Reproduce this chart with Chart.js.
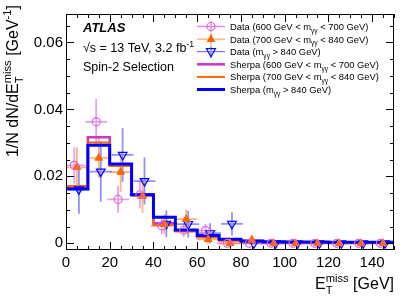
<!DOCTYPE html>
<html>
<head>
<meta charset="utf-8">
<script src="https://cdn.jsdelivr.net/npm/chart.js@4.4.0/dist/chart.umd.min.js"></script>
<style>
  html, body { margin: 0; padding: 0; background: #fff; }
  #wrap { width: 415px; height: 298px; }
</style>
</head>
<body>
<div id="wrap"><canvas id="c" width="415" height="298"></canvas></div>
<script>
// bin edges / centres (GeV)
const binEdges = [0, 10, 20, 30, 40, 50, 60, 70, 80, 90, 100, 110, 120, 130, 140, 150];
const binCenters = [5, 15, 25, 35, 45, 55, 65, 75, 85, 95, 105, 115, 125, 135, 145];

// Sherpa predictions (normalised)
const sherpa600 = [0.0168, 0.0317, 0.0234, 0.0146, 0.0060, 0.0039, 0.0020, 0.0010, 0.0006, 0.0004, 0.0003, 0.0003, 0.0002, 0.0002, 0.0002];
const sherpa700 = [0.0171, 0.0301, 0.0231, 0.0143, 0.0055, 0.0035, 0.0017, 0.0008, 0.0005, 0.0004, 0.0003, 0.0003, 0.0002, 0.0002, 0.0002];
const sherpa840 = [0.0162, 0.0293, 0.0237, 0.0145, 0.0078, 0.0040, 0.0023, 0.0012, 0.0007, 0.0005, 0.0004, 0.0004, 0.0003, 0.0003, 0.0003];

// data points and their statistical errors
const data600 = [0.0233, 0.0363, 0.0131, 0.0145, 0.0052, 0.0039, 0.0038, 0, 0, 0, 0, 0, 0, 0, 0];
const err600  = [0.0055, 0.0068, 0.0040, 0.0040, 0.0025, 0.0020, 0.0020, 0, 0, 0, 0, 0, 0, 0, 0];
const data700 = [0.0227, 0.0255, 0.0213, 0.0141, 0.0057, 0.0072, 0.0012, 0, 0.0010, 0, 0, 0, 0, 0, 0];
const err700  = [0.0060, 0.0060, 0.0060, 0.0050, 0.0030, 0.0030, 0.0015, 0, 0.0015, 0, 0, 0, 0, 0, 0];
const data840 = [0.0161, 0.0214, 0.0264, 0.0186, 0.0058, 0.0057, 0.0030, 0.0058, 0, 0, 0, 0, 0, 0, 0];
const err840  = [0.0073, 0.0090, 0.0080, 0.0070, 0.0040, 0.0040, 0.0030, 0.0035, 0, 0, 0, 0, 0, 0, 0];

const xTicks = [0, 20, 40, 60, 80, 100, 120, 140];
const yTicks = [0, 0.02, 0.04, 0.06];

const FONT = '"Liberation Sans", Arial, Helvetica, sans-serif';
const MAG = '#cc33cc', MAG_D = '#dd66dd', ORA = '#ff6600', BLU = '#0000ff';

function histPoints(vals) {
  const pts = vals.map((v, i) => ({ x: binEdges[i], y: v }));
  pts.push({ x: binEdges[binEdges.length - 1], y: vals[vals.length - 1] });
  return pts;
}
function dataPoints(vals, shift) {
  return vals.map((v, i) => ({ x: binCenters[i] + shift, y: v }));
}

const series = [
  { vals: data600, errs: err600, shift: -1.2, bar: 'rgba(221,110,221,0.65)' },
  { vals: data700, errs: err700, shift: 0, bar: 'rgba(255,130,50,0.6)' },
  { vals: data840, errs: err840, shift: 0.9, bar: 'rgba(70,70,255,0.6)' }
];

// text with sub/superscripts: parts [{t}, {sub}, {sup}, {sub, sup}]
function richWidth(ctx, parts, size) {
  let w = 0;
  parts.forEach(p => {
    if (p.t !== undefined) { ctx.font = size + 'px ' + FONT; w += ctx.measureText(p.t).width; }
    else {
      ctx.font = (size * 0.7) + 'px ' + FONT;
      w += Math.max(p.sub ? ctx.measureText(p.sub).width : 0, p.sup ? ctx.measureText(p.sup).width : 0);
    }
  });
  return w;
}
function drawRich(ctx, parts, x, y, size, align) {
  if (align === 'right') x -= richWidth(ctx, parts, size);
  ctx.textBaseline = 'alphabetic';
  ctx.textAlign = 'left';
  parts.forEach(p => {
    if (p.t !== undefined) {
      ctx.font = size + 'px ' + FONT;
      ctx.fillText(p.t, x, y);
      x += ctx.measureText(p.t).width;
    } else {
      ctx.font = (size * 0.7) + 'px ' + FONT;
      let w = 0;
      if (p.sup) { ctx.fillText(p.sup, x, y - size * 0.42); w = ctx.measureText(p.sup).width; }
      if (p.sub) { ctx.fillText(p.sub, x, y + size * 0.3); w = Math.max(w, ctx.measureText(p.sub).width); }
      x += w;
    }
  });
}

const atlasPlugin = {
  id: 'atlas',
  beforeDatasetsDraw(chart) {
    const { ctx, chartArea: a, scales: { x, y } } = chart;
    ctx.save();
    ctx.beginPath();
    ctx.rect(a.left, a.top, a.right - a.left, a.bottom - a.top);
    ctx.clip();
    series.forEach(s => {
      ctx.strokeStyle = s.bar;
      ctx.lineWidth = 1.8;
      s.vals.forEach((v, i) => {
        const xc = binCenters[i] + s.shift;
        const px = x.getPixelForValue(xc), py = y.getPixelForValue(v);
        ctx.beginPath();
        ctx.moveTo(x.getPixelForValue(xc - 5), py);
        ctx.lineTo(x.getPixelForValue(xc + 5), py);
        if (s.errs[i] > 0) {
          ctx.moveTo(px, y.getPixelForValue(v - s.errs[i]));
          ctx.lineTo(px, y.getPixelForValue(v + s.errs[i]));
        }
        ctx.stroke();
      });
    });
    ctx.restore();
  },
  afterDraw(chart) {
    const { ctx, chartArea: a, scales: { x, y } } = chart;
    ctx.save();
    // frame
    ctx.strokeStyle = '#000';
    ctx.lineWidth = 1;
    ctx.strokeRect(a.left + 0.5, a.top + 0.5, a.right - a.left - 1, a.bottom - a.top - 1);
    // ticks, pointing inwards on all four sides
    ctx.beginPath();
    for (let v = 0; v <= 150; v += 5) {
      const len = v % 20 === 0 ? 8 : 4;
      const px = Math.round(x.getPixelForValue(v)) + 0.5;
      ctx.moveTo(px, a.bottom); ctx.lineTo(px, a.bottom - len);
      ctx.moveTo(px, a.top); ctx.lineTo(px, a.top + len);
    }
    for (let k = 0; k <= 13; k++) {
      const v = k * 0.005;
      const len = k % 4 === 0 ? 8 : 4;
      const py = Math.round(y.getPixelForValue(v)) + 0.5;
      ctx.moveTo(a.left, py); ctx.lineTo(a.left + len, py);
      ctx.moveTo(a.right, py); ctx.lineTo(a.right - len, py);
    }
    ctx.stroke();

    ctx.fillStyle = '#000';
    // axis titles
    drawRich(ctx, [{ t: 'E' }, { sub: 'T', sup: 'miss' }, { t: ' [GeV]' }], a.right, 289, 16, 'right');
    ctx.save();
    ctx.translate(18, 5);
    ctx.rotate(-Math.PI / 2);
    drawRich(ctx, [{ t: '1/N dN/dE' }, { sub: 'T', sup: 'miss' }, { t: ' [GeV' }, { sup: '-1' }, { t: ']' }], 0, 0, 16, 'right');
    ctx.restore();

    // labels
    ctx.font = 'bold italic 13px ' + FONT;
    ctx.textAlign = 'left';
    ctx.fillText('ATLAS', 83, 32);
    drawRich(ctx, [{ t: '\u221As = 13 TeV, 3.2 fb' }, { sup: '-1' }], 83, 52, 12.5);
    drawRich(ctx, [{ t: 'Spin-2 Selection' }], 83, 71, 12.5);

    // legend
    const gg = { sub: '\u03B3\u03B3' };
    const entries = [
      { kind: 'circle', col: MAG_D, bar: 'rgba(221,110,221,0.8)', txt: [{ t: 'Data (600 GeV < m' }, gg, { t: ' < 700 GeV)' }] },
      { kind: 'tri', col: ORA, bar: 'rgba(255,130,50,0.7)', txt: [{ t: 'Data (700 GeV < m' }, gg, { t: ' < 840 GeV)' }] },
      { kind: 'itri', col: BLU, bar: 'rgba(70,70,255,0.7)', txt: [{ t: 'Data (m' }, gg, { t: ' > 840 GeV)' }] },
      { kind: 'line', col: MAG, w: 2.5, txt: [{ t: 'Sherpa (600 GeV < m' }, gg, { t: ' < 700 GeV)' }] },
      { kind: 'line', col: ORA, w: 2, txt: [{ t: 'Sherpa (700 GeV < m' }, gg, { t: ' < 840 GeV)' }] },
      { kind: 'line', col: BLU, w: 3, txt: [{ t: 'Sherpa (m' }, gg, { t: ' > 840 GeV)' }] }
    ];
    entries.forEach((e, i) => {
      const yc = 26.5 + i * 12.6;
      const x0 = 197, x1 = 225, xm = 211;
      if (e.kind === 'line') {
        ctx.strokeStyle = e.col; ctx.lineWidth = e.w;
        ctx.beginPath(); ctx.moveTo(x0, yc); ctx.lineTo(x1, yc); ctx.stroke();
      } else {
        ctx.strokeStyle = e.bar; ctx.lineWidth = 1.3;
        ctx.beginPath();
        ctx.moveTo(x0, yc); ctx.lineTo(x1, yc);
        ctx.moveTo(xm, yc - 6); ctx.lineTo(xm, yc + 6);
        ctx.stroke();
        ctx.strokeStyle = e.col; ctx.fillStyle = e.col; ctx.lineWidth = 1.2;
        ctx.beginPath();
        if (e.kind === 'circle') {
          ctx.arc(xm, yc, 4, 0, Math.PI * 2); ctx.stroke();
        } else if (e.kind === 'tri') {
          ctx.moveTo(xm, yc - 5); ctx.lineTo(xm + 4.5, yc + 3); ctx.lineTo(xm - 4.5, yc + 3); ctx.closePath(); ctx.fill();
        } else {
          ctx.moveTo(xm, yc + 5); ctx.lineTo(xm + 4.5, yc - 3); ctx.lineTo(xm - 4.5, yc - 3); ctx.closePath(); ctx.stroke();
        }
      }
      ctx.fillStyle = '#000';
      drawRich(ctx, e.txt, 230, yc + 3.5, 9.4);
    });
    ctx.restore();
  }
};

new Chart(document.getElementById('c').getContext('2d'), {
  type: 'line',
  data: {
    datasets: [
      { label: 'data600', data: dataPoints(data600, -1.2), showLine: false, pointStyle: 'circle', pointRadius: 4,
        pointBorderColor: MAG_D, pointBackgroundColor: 'rgba(0,0,0,0)', pointBorderWidth: 1.2, order: 1 },
      { label: 'data700', data: dataPoints(data700, 0), showLine: false, pointStyle: 'triangle', pointRadius: 4.5,
        pointBorderColor: ORA, pointBackgroundColor: ORA, pointBorderWidth: 1, order: 1 },
      { label: 'data840', data: dataPoints(data840, 0.9), showLine: false, pointStyle: 'triangle', pointRotation: 180, pointRadius: 5,
        pointBorderColor: BLU, pointBackgroundColor: 'rgba(0,0,0,0)', pointBorderWidth: 1.2, order: 1 },
      { label: 'sherpa600', data: histPoints(sherpa600), stepped: 'before', borderColor: MAG, borderWidth: 2.5, pointRadius: 0, fill: false, order: 4 },
      { label: 'sherpa700', data: histPoints(sherpa700), stepped: 'before', borderColor: ORA, borderWidth: 2, pointRadius: 0, fill: false, order: 3 },
      { label: 'sherpa840', data: histPoints(sherpa840), stepped: 'before', borderColor: BLU, borderWidth: 3, pointRadius: 0, fill: false, order: 2 }
    ]
  },
  options: {
    responsive: false,
    animation: false,
    layout: { padding: { top: 14, right: 21, left: 0, bottom: 0 } },
    plugins: { legend: { display: false }, tooltip: { enabled: false } },
    scales: {
      x: {
        type: 'linear', min: 0, max: 150,
        grid: { display: false, drawTicks: false }, border: { display: false },
        afterFit: s => { s.height = 48; },
        afterBuildTicks: s => { s.ticks = xTicks.map(v => ({ value: v })); },
        ticks: { padding: 4, color: '#000', font: { family: FONT, size: 15 }, maxRotation: 0, autoSkip: false }
      },
      y: {
        type: 'linear', min: -0.002, max: 0.0685,
        grid: { display: false, drawTicks: false }, border: { display: false },
        afterFit: s => { s.width = 66; },
        afterBuildTicks: s => { s.ticks = yTicks.map(v => ({ value: v })); },
        ticks: { padding: 3, color: '#000', font: { family: FONT, size: 15 },
          callback: v => v === 0 ? '0' : v.toFixed(2) }
      }
    }
  },
  plugins: [atlasPlugin]
});
</script>
</body>
</html>
